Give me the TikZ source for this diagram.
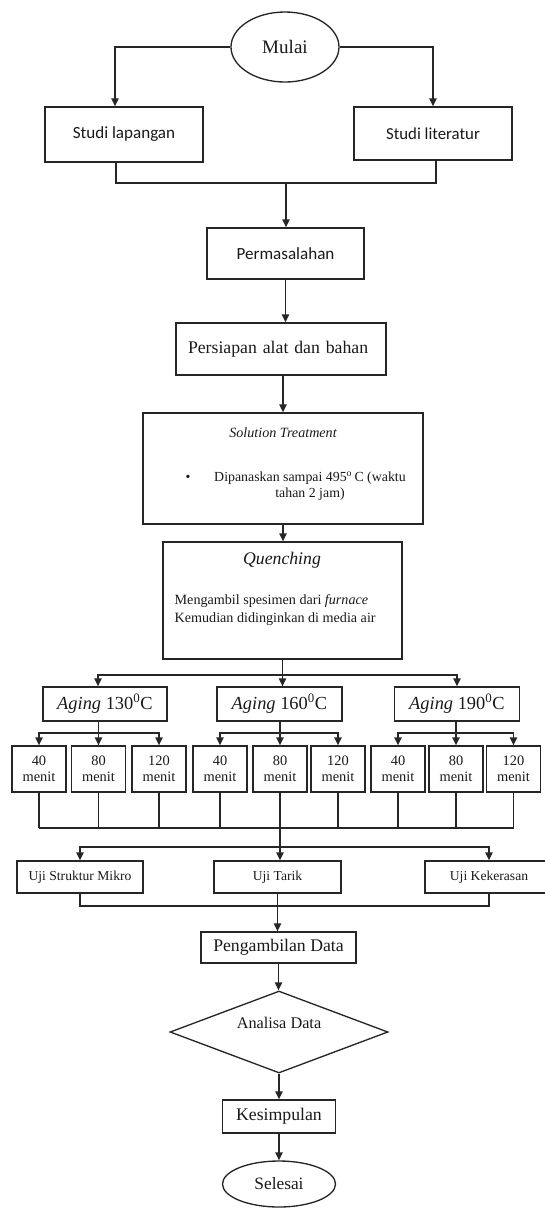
\documentclass[tikz,border=0pt]{standalone}
\usepackage{fontspec}
\setmainfont{Liberation Serif}
\newfontfamily\calibrifont{Carlito}
\usetikzlibrary{arrows.meta,shapes.geometric}
\newcommand{\fsz}[1]{\fontsize{#1}{#1}\selectfont}

\begin{document}
\begin{tikzpicture}[x=0.75pt, y=-0.75pt, line width=1pt, draw=black!85, text=black!90, >={Triangle[length=6pt,width=5.5pt]}, box/.style={draw,rectangle,inner sep=0pt,align=center}, oval/.style={draw,ellipse,inner sep=0pt}, txt/.style={inner sep=0pt,align=center}, minbox/.style={box,minimum width=40.5pt,minimum height=34.5pt,font=\fsz{10.8}}, ujibox/.style={box,minimum height=24pt,font=\fsz{10.2}}, agebox/.style={box,minimum height=25.5pt,font=\fsz{13.8}}]
\useasboundingbox (0,0) rectangle (545,1208);
\node[oval, minimum width=81pt, minimum height=52.5pt, font=\fsz{14.3}] (mulai) at (285,47) {Mulai};
\node[box, minimum width=118.5pt, minimum height=41.25pt, font=\calibrifont\fsz{12.8}] (studilap) at (124,134.5) {Studi lapangan};
\node[box, minimum width=118.5pt, minimum height=39.75pt, font=\calibrifont\fsz{12.6}] (studilit) at (433,133.5) {Studi literatur};
\node[box, minimum width=117.75pt, minimum height=38.25pt, font=\calibrifont\fsz{12.8}] (masalah) at (285.5,253.5) {Permasalahan};
\node[box, text width=139.5pt, inner xsep=9pt, minimum height=39pt, align=left, font=\fsz{13.3}] (persiapan) at (281,349) {Persiapan alat dan bahan};
\node[box, minimum width=210pt, minimum height=83.25pt] (solution) at (283,468.5) {};
\node[txt, font=\itshape\fsz{10.6}] (soltitle) at (283,433) {Solution Treatment};
\node[txt, font=\fsz{10.4}] (solbullet) at (188,478) {\textbullet};
\node[txt, font=\fsz{10.4}, anchor=north] (soltext) at (310,471) {Dipanaskan sampai 495\textsuperscript{o}\,C (waktu\\[1.5pt]tahan 2 jam)};
\node[box, minimum width=179.25pt, minimum height=87.75pt] (quench) at (282.5,600.5) {};
\node[txt, font=\itshape\fsz{13.3}] (quenchtitle) at (282,560) {Quenching};
\node[txt, font=\fsz{10.6}, align=left, anchor=west] (quenchtext) at (174,610) {Mengambil spesimen dari \textit{furnace}\\[3pt]Kemudian didinginkan di media air};
\node[agebox, minimum width=93pt] (a130) at (105,704) {\textit{Aging} 130\textsuperscript{0}C};
\node[agebox, minimum width=93.75pt] (a160) at (279.5,704) {\textit{Aging} 160\textsuperscript{0}C};
\node[agebox, minimum width=94pt] (a190) at (457,704) {\textit{Aging} 190\textsuperscript{0}C};
\foreach \x/\t [count=\i] in {39/40, 98.5/80, 159/120, 220/40, 280/80, 338/120, 398/40, 456/80, 513.5/120}
  \node[minbox] (m\i) at (\x,769) {\t\\[1pt]menit};
\node[ujibox, minimum width=94.5pt] (mikro) at (80,877) {Uji Struktur Mikro};
\node[ujibox, minimum width=95.25pt] (tarik) at (277.5,877) {Uji Tarik};
\node[ujibox, minimum width=96pt] (keras) at (489,877) {Uji Kekerasan};
\node[box, minimum width=116.25pt, minimum height=23.25pt, font=\fsz{13.3}] (ambil) at (278.5,947.5) {Pengambilan Data};
\node[draw, diamond, aspect=2.66, inner sep=0pt, minimum width=163.5pt, minimum height=61.5pt] (analisa) at (279,1032) {};
\node[txt, font=\fsz{12.2}] (analisatxt) at (279,1023) {Analisa Data};
\node[box, minimum width=84.75pt, minimum height=24.75pt, font=\fsz{13.3}] (kesimpulan) at (279,1116.5) {Kesimpulan};
\node[oval, minimum width=84.75pt, minimum height=34.5pt, font=\fsz{13}] (selesai) at (279,1184) {Selesai};
\coordinate (j1) at (286,183);
\coordinate (q) at (quench.south |- 0,675);
\coordinate (c1) at (m5.south |- 0,828);
\coordinate (c2) at (m5.south |- 0,847);
\coordinate (d) at (tarik.south |- 0,906);
\draw[->] (mulai.west) -| ([xshift=-6.75pt]studilap.north);
\draw[->] (mulai.east) -| (studilit.north);
\draw ([xshift=-6pt]studilap.south) |- (j1) -| ([xshift=2.25pt]studilit.south);
\draw[->] (j1) -- (j1 |- masalah.north);
\draw[->] (masalah.south) -- (masalah.south |- persiapan.north);
\draw[->] (solution.north |- persiapan.south) -- (solution.north);
\draw[->] (solution.south) -- (solution.south |- quench.north);
\draw (quench.south) -- (q);
\draw[->] (q) -| ([xshift=-5.25pt]a130.north);
\draw[->] (q) -- (q |- a160.north);
\draw[->] (q) -| (a190.north);
\foreach \a/\l/\c/\r in {a130/m1/m2/m3, a160/m4/m5/m6, a190/m7/m8/m9} {
  \draw (\c |- \a.south) -- (\c |- 0,733);
  \draw[->] (\c |- 0,733) -| (\l.north);
  \draw[->] (\c |- 0,733) -- (\c.north);
  \draw[->] (\c |- 0,733) -| (\r.north);
}
\foreach \i in {1,...,9}
  \draw (m\i.south) -- (m\i.south |- c1);
\draw (m1.south |- c1) -- (m9.south |- c1);
\draw (c1) -- (c2);
\draw[->] (c2) -| (mikro.north);
\draw[->] (c2) -- (c2 |- tarik.north);
\draw[->] (c2) -| (keras.north);
\draw (mikro.south) |- (d) -| (keras.south);
\draw[->] (tarik.south) -- (tarik.south |- ambil.north);
\draw[->] (ambil.south) -- (ambil.south |- analisa.north);
\draw[->] (analisa.south) -- (analisa.south |- kesimpulan.north);
\draw[->] (kesimpulan.south) -- (kesimpulan.south |- selesai.north);
\end{tikzpicture}
\end{document}
